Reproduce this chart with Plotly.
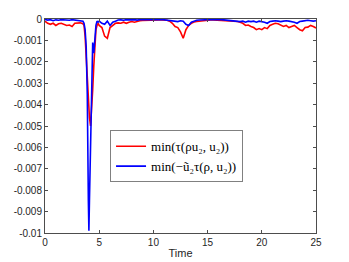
import plotly.graph_objects as go

time = [0, 0.25, 0.5, 0.75, 1.0, 1.25, 1.5, 1.75, 2.0, 2.25, 2.5, 2.75, 3.0, 3.25, 3.5,
        3.6, 3.7, 3.8, 3.9, 4.0, 4.05, 4.1, 4.2, 4.3, 4.4, 4.5, 4.6, 4.7, 4.8, 4.9, 5.0,
        5.25, 5.5, 5.75, 6.0, 6.25, 6.5, 6.75, 7.0, 7.25, 7.5, 7.75, 8.0, 8.25, 8.5, 8.75,
        9.0, 9.25, 9.5, 9.75, 10.0, 10.25, 10.5, 10.75, 11.0, 11.25, 11.5, 11.75, 12.0,
        12.25, 12.5, 12.75, 13.0, 13.25, 13.5, 13.75, 14.0, 14.25, 14.5, 14.75, 15.0,
        15.25, 15.5, 15.75, 16.0, 16.25, 16.5, 16.75, 17.0, 17.25, 17.5, 17.75, 18.0,
        18.25, 18.5, 18.75, 19.0, 19.25, 19.5, 19.75, 20.0, 20.25, 20.5, 20.75, 21.0,
        21.25, 21.5, 21.75, 22.0, 22.25, 22.5, 22.75, 23.0, 23.25, 23.5, 23.75, 24.0,
        24.25, 24.5, 24.75, 25.0]

red_min_tau = [-0.0001, -0.0002, -0.00025, -0.0002, -0.0003, -0.00022, -0.0002, -0.00025,
               -0.0003, -0.00028, -0.00035, -0.0002, -0.0002, -0.00018, -0.00022,
               -0.0003, -0.0008, -0.0018, -0.0026, -0.0032, -0.004, -0.0046, -0.005,
               -0.0043, -0.0033, -0.0022, -0.0015, -0.0005, -0.0003, -0.0002, -0.0003,
               -0.0004, -0.0008, -0.0009, -0.0004, -0.0003, -0.0002, -0.00018, -0.0002,
               -0.00015, -0.0002, -0.00015, -0.00012, -0.00015, -0.0001, -0.00008,
               -0.00007, -0.00006, -0.00008, -0.00005, -0.00006, -0.00005, -0.00004,
               -0.00005, -0.00004, -0.00006, -0.0001, -0.0002, -0.00035,
               -0.0004, -0.0006, -0.0009, -0.0005, -0.0003, -0.0002, -0.00014, -0.00012,
               -0.0001, -0.00008, -0.00007, -0.00006, -0.00005, -0.00004, -0.00005,
               -0.00004, -0.00006, -0.00005, -0.00007, -0.00008, -0.0001, -0.0001,
               -0.00012, -0.00015, -0.0002, -0.0003, -0.00028, -0.00035, -0.0004,
               -0.0005, -0.00045, -0.0005, -0.0004, -0.00045, -0.0003, -0.00025,
               -0.0002, -0.00022, -0.0003, -0.00035, -0.0003, -0.0004, -0.00035,
               -0.0003, -0.0004, -0.0005, -0.00055, -0.0004, -0.00038, -0.0003,
               -0.00035, -0.00042]

blue_min_u2tau = [-0.00002, -0.00005, -0.00003, -0.00008, -0.00004, -0.00006, -0.00003,
                  -0.00005, -0.00004, -0.00006, -0.00003, -0.00005, -0.00004, -0.00006,
                  -0.0001,
                  -0.0002, -0.0005, -0.0013, -0.0035, -0.0085, -0.0099, -0.0085, -0.0055,
                  -0.0028, -0.0011, -0.0016, -0.0008, -0.0003, -0.0001, -0.00015, -0.0001,
                  -0.0002, -0.00025, -0.0001, -0.0003, -0.00015, -0.0001, -0.00005,
                  -0.00004, -0.00006, -0.00003, -0.00005, -0.00004, -0.00003, -0.00005,
                  -0.00003, -0.00004, -0.00002, -0.00003, -0.00002, -0.00003, -0.00002,
                  -0.00003, -0.00002, -0.00004, -0.00003, -0.00005, -0.00008, -0.0001,
                  -0.00012, -0.00008, -0.0001, -0.00025, -0.0003, -0.00015, -0.0001,
                  -0.00006, -0.00005, -0.00004, -0.00003, -0.00004, -0.00003, -0.00002,
                  -0.00003, -0.00002, -0.00003, -0.00004, -0.00005, -0.00008, -0.0001,
                  -0.00008, -0.0001, -0.00012, -0.0001, -0.00015, -0.0001, -0.00012,
                  -0.0001, -0.00015, -0.0001, -0.00012, -0.00015, -0.0002, -0.00012,
                  -0.0001, -0.00008, -0.0001, -0.00012, -0.0001, -0.00008, -0.0001,
                  -0.00012, -0.00015, -0.0002, -0.00012, -0.0001, -0.00008, -0.00006,
                  -0.00008, -0.0001, -0.00008]

x_ticks = [0, 5, 10, 15, 20, 25]
y_ticks = [0, -0.001, -0.002, -0.003, -0.004, -0.005, -0.006, -0.007, -0.008, -0.009, -0.01]
y_tick_labels = ["0", "-0.001", "-0.002", "-0.003", "-0.004", "-0.005", "-0.006",
                 "-0.007", "-0.008", "-0.009", "-0.01"]

fig = go.Figure()
fig.add_trace(go.Scatter(x=time, y=red_min_tau, mode="lines",
                         line=dict(color="#ff0000", width=1.6),
                         name="min(τ(ρu₂, u₂))"))
fig.add_trace(go.Scatter(x=time, y=blue_min_u2tau, mode="lines",
                         line=dict(color="#0000ff", width=1.6),
                         name="min(−ũ₂τ(ρ, u₂))"))

axis_common = dict(showline=True, linecolor="#4d4d4d", linewidth=1, mirror="ticks",
                   ticks="inside", ticklen=3, tickcolor="#4d4d4d",
                   showgrid=False, zeroline=False, automargin=False,
                   tickfont=dict(family="Liberation Sans, Arial, sans-serif", size=10, color="#262626"))

fig.update_xaxes(range=[0, 25], tickvals=x_ticks, ticktext=[str(v) for v in x_ticks],
                 title=dict(text="Time", standoff=2,
                            font=dict(family="Liberation Sans, Arial, sans-serif", size=11, color="#262626")),
                 **axis_common)
fig.update_yaxes(range=[-0.01, 0], tickvals=y_ticks, ticktext=y_tick_labels, **axis_common)

fig.update_layout(
    width=349, height=262,
    margin=dict(l=45, r=33, t=19, b=29),
    paper_bgcolor="white", plot_bgcolor="white",
    showlegend=True,
    legend=dict(x=0.24, y=0.48, xanchor="left", yanchor="top",
                bgcolor="white", bordercolor="#808080", borderwidth=1,
                font=dict(family="Liberation Serif, DejaVu Serif, serif", size=13, color="black"),
                itemwidth=30, tracegroupgap=0),
)

fig.write_html("out.html", config={"displayModeBar": False},
               post_script="document.body.style.margin='0';document.body.style.overflow='hidden';")
